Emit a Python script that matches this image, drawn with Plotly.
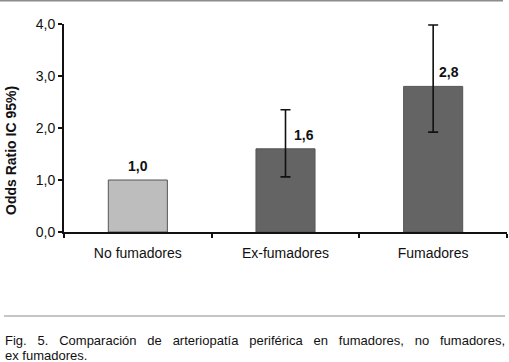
import plotly.graph_objects as go

categories = ["No fumadores", "Ex-fumadores", "Fumadores"]
odds_ratio = [1.0, 1.6, 2.8]
ci_lower = [1.0, 1.06, 1.92]
ci_upper = [1.0, 2.35, 3.98]
value_labels = ["1,0", "1,6", "2,8"]
y_ticks = [0, 1, 2, 3, 4]
y_tick_labels = ["0,0", "1,0", "2,0", "3,0", "4,0"]
bar_colors = ["#bdbdbd", "#646464", "#646464"]
caption_words = ["Fig.", "5.", "Comparación", "de", "arteriopatía", "periférica",
                 "en", "fumadores,", "no", "fumadores,"]
caption_line2 = "ex fumadores."

err_plus = [u - v for u, v in zip(ci_upper, odds_ratio)]
err_minus = [v - l for v, l in zip(odds_ratio, ci_lower)]
show_err = [e > 0 for e in err_plus]

fig = go.Figure()
fig.add_trace(go.Bar(
    x=categories, y=odds_ratio, width=0.4,
    marker=dict(color=bar_colors, line=dict(color="#555555", width=1)),
    showlegend=False,
))
fig.add_trace(go.Scatter(
    x=[c for c, s in zip(categories, show_err) if s],
    y=[v for v, s in zip(odds_ratio, show_err) if s],
    mode="markers", marker=dict(size=0.1, color="rgba(0,0,0,0)"),
    error_y=dict(type="data", symmetric=False,
                 array=[e for e, s in zip(err_plus, show_err) if s],
                 arrayminus=[e for e, s in zip(err_minus, show_err) if s],
                 color="#111111", thickness=1.6, width=5),
    showlegend=False, hoverinfo="skip",
))

font_family = "Liberation Sans, Arial, sans-serif"
shifts = [0, 18, 16]
for c, v, t, s in zip(categories, odds_ratio, value_labels, shifts):
    fig.add_annotation(x=c, y=v, text="<b>" + t + "</b>", showarrow=False,
                       yanchor="bottom", yshift=4, xshift=s,
                       font=dict(family=font_family, size=14, color="#111111"))

W = 443.0
H = 208.0
fig.add_annotation(xref="paper", yref="paper", x=(11 - 64) / W, y=(232 - 151) / H,
                   text="<b>Odds Ratio IC 95%)</b>", textangle=-90, showarrow=False,
                   xanchor="center", yanchor="middle",
                   font=dict(family=font_family, size=14, color="#111111"))

gap = "&nbsp;&nbsp;&nbsp;"
fig.add_annotation(xref="paper", yref="paper", x=(3 - 64) / W, y=(232 - 340) / H,
                   xanchor="left", yanchor="middle", align="left", showarrow=False,
                   text=gap.join(caption_words),
                   font=dict(family=font_family, size=13, color="#111111"))
fig.add_annotation(xref="paper", yref="paper", x=(3 - 64) / W, y=(232 - 355) / H,
                   xanchor="left", yanchor="middle", align="left", showarrow=False,
                   text=caption_line2,
                   font=dict(family=font_family, size=13, color="#111111"))

fig.add_shape(type="line", xref="paper", yref="paper",
              x0=(4 - 64) / W, x1=(505 - 64) / W, y0=(232 - 316) / H, y1=(232 - 316) / H,
              line=dict(color="#8c8c8c", width=1))
fig.add_shape(type="line", xref="paper", yref="paper",
              x0=(0 - 64) / W, x1=(503 - 64) / W, y0=(232 - 0.8) / H, y1=(232 - 0.8) / H,
              line=dict(color="#8c8c8c", width=1.6))

fig.update_layout(
    width=509, height=362,
    margin=dict(l=64, r=2, t=24, b=130),
    paper_bgcolor="white", plot_bgcolor="white",
    font=dict(family=font_family, size=14, color="#111111"),
    bargap=0.6,
)
fig.update_xaxes(type="category", showline=True, linecolor="#111111", linewidth=2,
                 ticks="outside", tickson="boundaries", ticklen=4, tickcolor="#111111",
                 tickwidth=2, showgrid=False, tickfont=dict(size=14), zeroline=False,
                 ticklabelstandoff=7)
fig.update_yaxes(range=[0, 4], tickvals=y_ticks, ticktext=y_tick_labels,
                 showline=True, linecolor="#111111", linewidth=2, ticks="outside",
                 ticklen=4, tickcolor="#111111", tickwidth=2, showgrid=False,
                 zeroline=False, tickfont=dict(size=14))

fig.write_html("out.html", config={"displayModeBar": False})

# remove default browser body margin so the figure sits at the page origin
with open("out.html", "r", encoding="utf-8") as f:
    html = f.read()
html = html.replace("<body>", '<body style="margin:0;padding:0;overflow:hidden">', 1)
with open("out.html", "w", encoding="utf-8") as f:
    f.write(html)
